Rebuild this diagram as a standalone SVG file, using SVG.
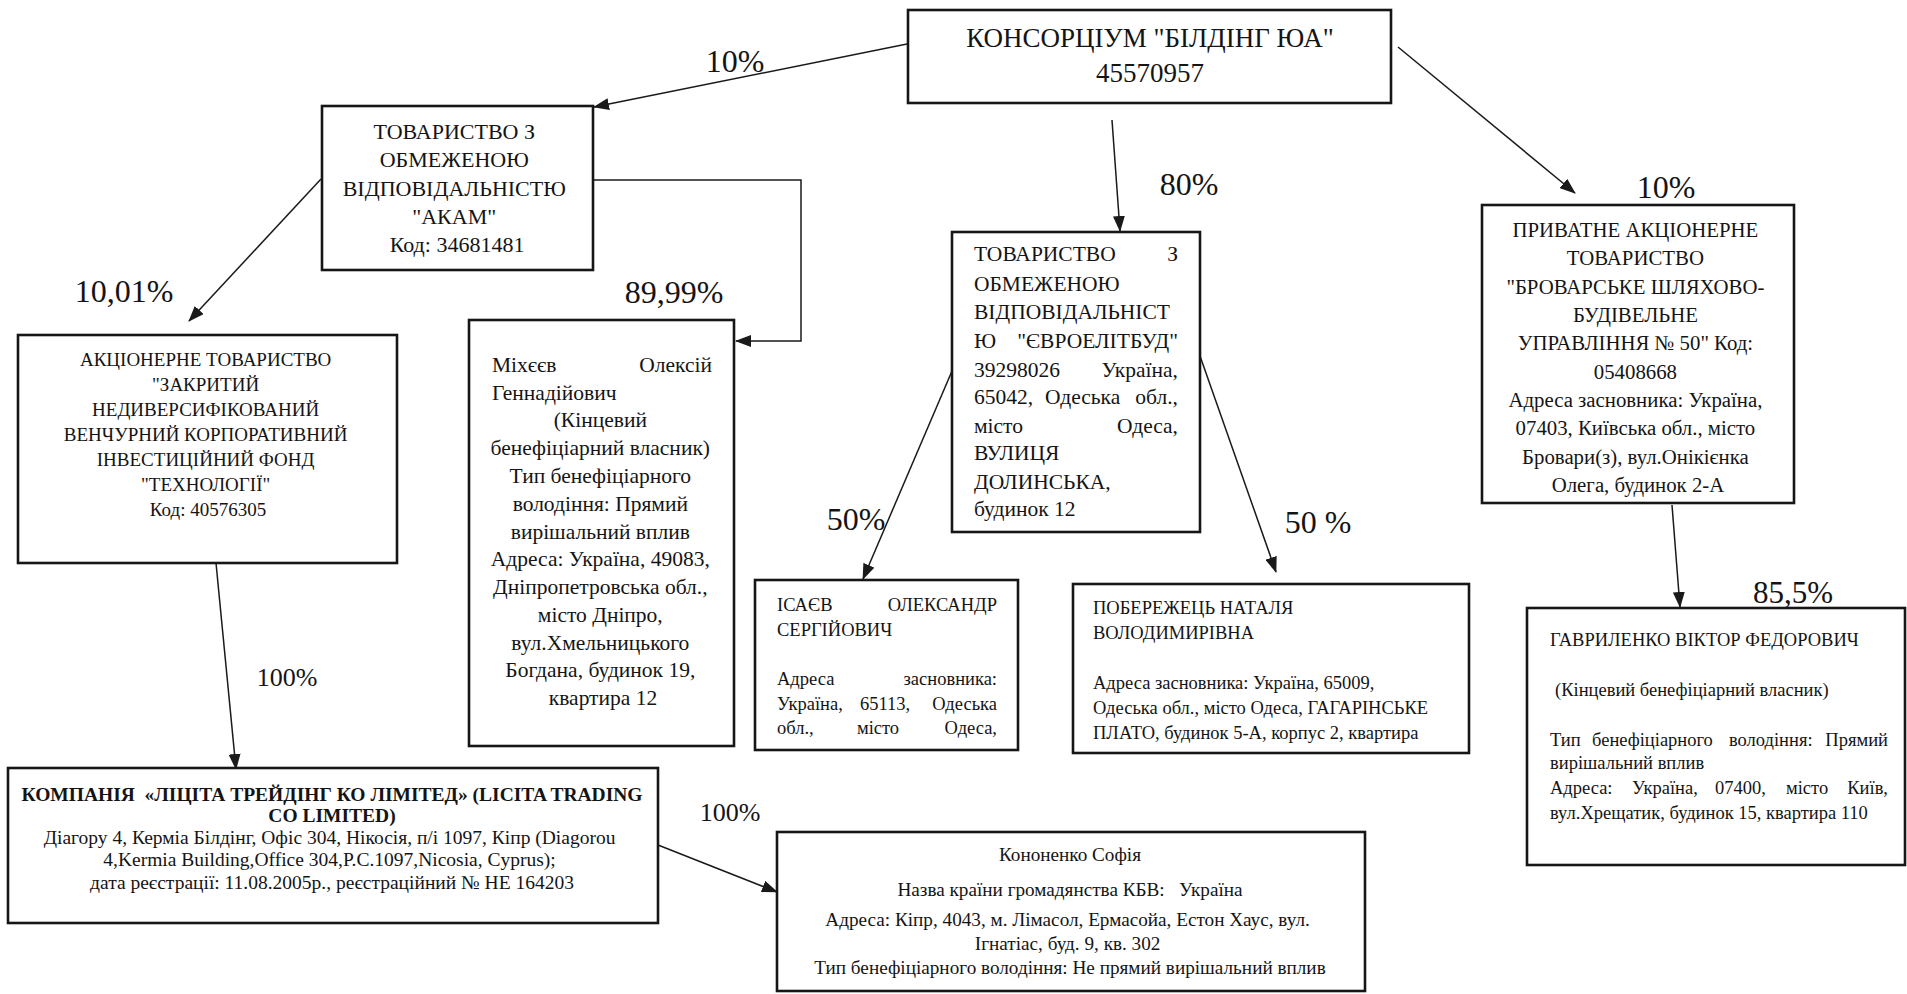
<svg xmlns="http://www.w3.org/2000/svg" width="1907" height="994" viewBox="0 0 1907 994">
<style>
.bg{fill:#fff}
.box{fill:#fff;stroke:#161616;stroke-width:2.6}
.t{font-family:"Liberation Serif","Times New Roman",serif;fill:#141414}
.c{text-anchor:middle}
.e{text-anchor:end}
.pct{font-size:32px}
.pct2{font-size:26px}
.ln{stroke:#1a1a1a;stroke-width:1.5;fill:none;marker-end:url(#ah)}
</style>
<defs>
<marker id="ah" markerUnits="userSpaceOnUse" markerWidth="16" markerHeight="12" refX="15" refY="6" orient="auto"><path d="M0,0 L16,6 L0,12 z" fill="#1a1a1a"/></marker>
</defs>
<rect class="bg" x="0" y="0" width="1907" height="994"/>

<g id="connectors">
<line class="ln" x1="907" y1="44" x2="594" y2="107"/>
<line class="ln" x1="321" y1="179" x2="189" y2="321"/>
<polyline class="ln" points="593,180 801,180 801,341 736,341"/>
<line class="ln" x1="1112" y1="120" x2="1120" y2="231"/>
<line class="ln" x1="1398" y1="47" x2="1575" y2="193"/>
<line class="ln" x1="952" y1="371" x2="863" y2="579"/>
<line class="ln" x1="1200" y1="356" x2="1276" y2="572"/>
<line class="ln" x1="1672" y1="505" x2="1680" y2="607"/>
<line class="ln" x1="216" y1="563" x2="236" y2="769"/>
<line class="ln" x1="658" y1="845" x2="777" y2="892"/>
</g>

<g id="labels" class="t">
<text class="c pct" x="735" y="72">10%</text>
<text class="c pct" x="124" y="302">10,01%</text>
<text class="c pct" x="674" y="303">89,99%</text>
<text class="c pct" x="1189" y="195">80%</text>
<text class="c pct" x="1666" y="198">10%</text>
<text class="c pct" x="856" y="530">50%</text>
<text class="c pct" x="1318" y="533">50 %</text>
<text class="c pct" x="1793" y="603" style="font-size:31px">85,5%</text>
<text class="c pct2" x="287" y="686">100%</text>
<text class="c pct2" x="730" y="821">100%</text>
</g>

<g id="consortium">
<rect class="box" x="908" y="10" width="483" height="93"/>
<text class="t c" x="1150" y="47" font-size="27">КОНСОРЦІУМ "БІЛДІНГ ЮА"</text>
<text class="t c" x="1150" y="82" font-size="27">45570957</text>
</g>

<g id="akam">
<rect class="box" x="322" y="106" width="271" height="164"/>
<text class="t c" font-size="22">
<tspan x="457" y="139">ТОВАРИСТВО З</tspan>
<tspan x="457" y="167">ОБМЕЖЕНОЮ</tspan>
<tspan x="457" y="196">ВІДПОВІДАЛЬНІСТЮ</tspan>
<tspan x="457" y="224">"АКАМ"</tspan>
<tspan x="457" y="252">Код: 34681481</tspan>
</text>
</g>

<g id="tekhnologii">
<rect class="box" x="18" y="335" width="379" height="228"/>
<text class="t c" font-size="19">
<tspan x="208" y="366">АКЦІОНЕРНЕ ТОВАРИСТВО</tspan>
<tspan x="208" y="391">"ЗАКРИТИЙ</tspan>
<tspan x="208" y="416">НЕДИВЕРСИФІКОВАНИЙ</tspan>
<tspan x="208" y="441">ВЕНЧУРНИЙ КОРПОРАТИВНИЙ</tspan>
<tspan x="208" y="466">ІНВЕСТИЦІЙНИЙ ФОНД</tspan>
<tspan x="208" y="491">"ТЕХНОЛОГІЇ"</tspan>
<tspan x="208" y="516">Код: 40576305</tspan>
</text>
</g>

<g id="mikheiev">
<rect class="box" x="469" y="320" width="265" height="426"/>
<text class="t" font-size="21.5" x="492" y="372">Міхєєв</text>
<text class="t e" font-size="21.5" x="712" y="372">Олексій</text>
<text class="t" font-size="21.5" x="492" y="400">Геннадійович</text>
<text class="t c" font-size="21.5">
<tspan x="603" y="427">(Кінцевий</tspan>
<tspan x="603" y="455">бенефіціарний власник)</tspan>
<tspan x="603" y="483">Тип бенефіціарного</tspan>
<tspan x="603" y="511">володіння: Прямий</tspan>
<tspan x="603" y="539">вирішальний вплив</tspan>
<tspan x="603" y="566">Адреса: Україна, 49083,</tspan>
<tspan x="603" y="594">Дніпропетровська обл.,</tspan>
<tspan x="603" y="622">місто Дніпро,</tspan>
<tspan x="603" y="650">вул.Хмельницького</tspan>
<tspan x="603" y="677">Богдана, будинок 19,</tspan>
<tspan x="603" y="705">квартира 12</tspan>
</text>
</g>

<g id="evroelitbud">
<rect class="box" x="952" y="232" width="248" height="300"/>
<g class="t" font-size="21.5">
<text x="974" y="261">ТОВАРИСТВО</text><text class="e" x="1178" y="261">З</text>
<text x="974" y="291">ОБМЕЖЕНОЮ</text>
<text x="974" y="319">ВІДПОВІДАЛЬНІСТ</text>
<text x="974" y="348">Ю</text><text class="e" x="1178" y="348">"ЄВРОЕЛІТБУД"</text>
<text x="974" y="377">39298026</text><text class="e" x="1178" y="377">Україна,</text>
<text x="974" y="404">65042,</text><text x="1045" y="404">Одеська</text><text class="e" x="1178" y="404">обл.,</text>
<text x="974" y="433">місто</text><text class="e" x="1178" y="433">Одеса,</text>
<text x="974" y="460">ВУЛИЦЯ</text>
<text x="974" y="489">ДОЛИНСЬКА,</text>
<text x="974" y="516">будинок 12</text>
</g>
</g>

<g id="brovarske">
<rect class="box" x="1482" y="205" width="312" height="298"/>
<text class="t c" font-size="20.8">
<tspan x="1638" y="237">ПРИВАТНЕ АКЦІОНЕРНЕ</tspan>
<tspan x="1638" y="265">ТОВАРИСТВО</tspan>
<tspan x="1638" y="294">"БРОВАРСЬКЕ ШЛЯХОВО-</tspan>
<tspan x="1638" y="322">БУДІВЕЛЬНЕ</tspan>
<tspan x="1638" y="350">УПРАВЛІННЯ № 50" Код:</tspan>
<tspan x="1638" y="379">05408668</tspan>
<tspan x="1638" y="407">Адреса засновника: Україна,</tspan>
<tspan x="1638" y="435">07403, Київська обл., місто</tspan>
<tspan x="1638" y="464">Бровари(з), вул.Онікієнка</tspan>
<tspan x="1638" y="492">Олега, будинок 2-А</tspan>
</text>
</g>

<g id="isaiev">
<rect class="box" x="755" y="580" width="263" height="170"/>
<g class="t" font-size="18.5">
<text x="777" y="611">ІСАЄВ</text><text class="e" x="997" y="611">ОЛЕКСАНДР</text>
<text x="777" y="636">СЕРГІЙОВИЧ</text>
<text x="777" y="685">Адреса</text><text class="e" x="997" y="685">засновника:</text>
<text x="777" y="710">Україна,</text><text class="c" x="885" y="710">65113,</text><text class="e" x="997" y="710">Одеська</text>
<text x="777" y="734">обл.,</text><text class="c" x="878" y="734">місто</text><text class="e" x="997" y="734">Одеса,</text>
</g>
</g>

<g id="poberezhets">
<rect class="box" x="1073" y="584" width="396" height="169"/>
<text class="t" font-size="18.5">
<tspan x="1093" y="614">ПОБЕРЕЖЕЦЬ НАТАЛЯ</tspan>
<tspan x="1093" y="639">ВОЛОДИМИРІВНА</tspan>
<tspan x="1093" y="689">Адреса засновника: Україна, 65009,</tspan>
<tspan x="1093" y="714">Одеська обл., місто Одеса, ГАГАРІНСЬКЕ</tspan>
<tspan x="1093" y="739">ПЛАТО, будинок 5-А, корпус 2, квартира</tspan>
</text>
</g>

<g id="havrylenko">
<rect class="box" x="1527" y="608" width="378" height="257"/>
<g class="t" font-size="18.5">
<text x="1550" y="646">ГАВРИЛЕНКО ВІКТОР ФЕДОРОВИЧ</text>
<text x="1555" y="696">(Кінцевий бенефіціарний власник)</text>
<text x="1550" y="746">Тип</text><text x="1592" y="746">бенефіціарного</text><text x="1729" y="746">володіння:</text><text class="e" x="1888" y="746">Прямий</text>
<text x="1550" y="769">вирішальний вплив</text>
<text x="1550" y="794">Адреса:</text><text x="1632" y="794">Україна,</text><text x="1715" y="794">07400,</text><text x="1786" y="794">місто</text><text class="e" x="1888" y="794">Київ,</text>
<text x="1550" y="819">вул.Хрещатик, будинок 15, квартира 110</text>
</g>
</g>

<g id="licita">
<rect class="box" x="8" y="768" width="650" height="155"/>
<text class="t c" font-size="19.5" font-weight="bold" x="332" y="801" xml:space="preserve">КОМПАНІЯ  «ЛІЦІТА ТРЕЙДІНГ КО ЛІМІТЕД» (LICITA TRADING</text>
<text class="t c" font-size="19.5" font-weight="bold" x="332" y="822">CO LIMITED)</text>
<text class="t c" font-size="19.5">
<tspan x="332" y="844">Діагору 4, Керміа Білдінг, Офіс 304, Нікосія, п/і 1097, Кіпр (Diagorou</tspan>
<tspan x="332" y="866">4,Kermia Building,Office 304,P.C.1097,Nicosia, Cyprus);</tspan>
<tspan x="332" y="889">дата реєстрації: 11.08.2005р., реєстраційний № НЕ 164203</tspan>
</text>
</g>

<g id="kononenko">
<rect class="box" x="777" y="832" width="588" height="159"/>
<text class="t c" font-size="19.2" x="1070" y="861">Кононенко Софія</text>
<text class="t c" font-size="19.2" x="1070" y="896" xml:space="preserve">Назва країни громадянства КБВ:   Україна</text>
<text class="t c" font-size="19.2">
<tspan x="1070" y="926">Адреса: Кіпр, 4043, м. Лімасол, Ермасойа, Естон Хаус, вул.</tspan>
<tspan x="1070" y="950">Ігнатіас, буд. 9, кв. 302</tspan>
<tspan x="1070" y="974">Тип бенефіціарного володіння: Не прямий вирішальний вплив</tspan>
</text>
</g>
</svg>
